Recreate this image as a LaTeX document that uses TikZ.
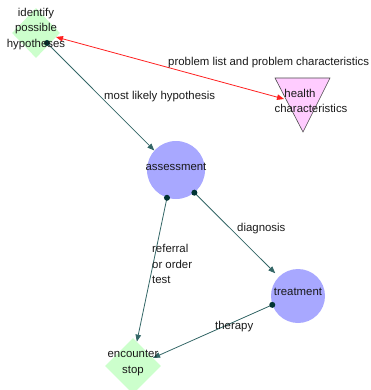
\documentclass[tikz,border=0pt]{standalone}
\usepackage{fontspec}
\setmainfont{Liberation Sans}
\usetikzlibrary{shapes.geometric,arrows.meta}
\definecolor{gfill}{HTML}{CCFFCC}
\definecolor{cfill}{HTML}{A8A8FF}
\definecolor{pfill}{HTML}{FFCCFF}
\definecolor{edgec}{HTML}{336666}
\definecolor{dotc}{HTML}{003333}
\definecolor{redc}{HTML}{FF2020}
\begin{document}
\begin{tikzpicture}[x=1pt,y=-1pt,
  every node/.style={font=\fontsize{11.4}{15.8}\selectfont, text=black!90},
  lbl/.style={inner sep=0pt, align=center},
  elbl/.style={inner sep=0pt, anchor=west},
  dia/.style={diamond, fill=gfill, inner sep=0pt, minimum width=48pt, minimum height=50pt},
  blob/.style={circle, fill=cfill, inner sep=0pt, minimum size=58pt},
  link/.style={draw=edgec, line width=0.8pt, -{Triangle[length=7pt,width=5.5pt]}},
  redlink/.style={draw=redc, line width=0.8pt, {Triangle[length=7pt,width=5.5pt]}-{Triangle[length=7pt,width=5.5pt]}},
  dotmark/.style={fill=dotc},
]
\useasboundingbox (0,0) rectangle (370,390);

% shapes
\node[dia] (ident) at (36,33) {};
\node[dia, minimum width=56pt, minimum height=56pt] (enc) at (133,366) {};
\node[blob] (assess) at (176,170) {};
\node[blob, minimum size=54pt] (treat) at (298,296) {};
\path[fill=pfill, draw=black!70, line width=0.6pt] (275,78) -- (330,78) -- (303,132) -- cycle;
\coordinate (health) at (303,96);

% endpoints
\coordinate (pA) at (47,43);
\coordinate (hL) at (56,37);
\coordinate (hR) at (284,99);

% connectors
\draw[redlink] (hL) -- (hR);
\draw[link] (pA) -- (assess.138);
\draw[link, shorten >=5pt] (assess.-51) -- (treat.135);
\draw[link] (treat.-161) -- (enc.22);
\draw[link] (assess.-108) -- (enc.81);

% start dots
\fill[dotmark] (pA) circle (3);
\fill[dotmark] (assess.-51) circle (3);
\fill[dotmark] (treat.-161) circle (3);
\fill[dotmark] (assess.-108) circle (3);

% node texts
\node[lbl] (identT) at (36,29) {identify\\possible\\hypotheses};
\node[lbl] (encT) at (133,363) {encounter\\stop};
\node[lbl] (assessT) at (176,167) {assessment};
\node[lbl] (treatT) at (298,292) {treatment};
\node[lbl] (healthT1) at (300,93) {health};
\node[lbl] (healthT2) at (311,108) {characteristics};

% connector labels
\node[elbl] (l1) at (104,97) {most likely hypothesis};
\node[elbl] (l2) at (168,63) {problem list and problem characteristics};
\node[elbl] (l3) at (237,229) {diagnosis};
\node[elbl] (l4) at (215,327) {therapy};
\node[elbl, align=left] (l5) at (152,264) {referral\\or order\\test};
\end{tikzpicture}
\end{document}
